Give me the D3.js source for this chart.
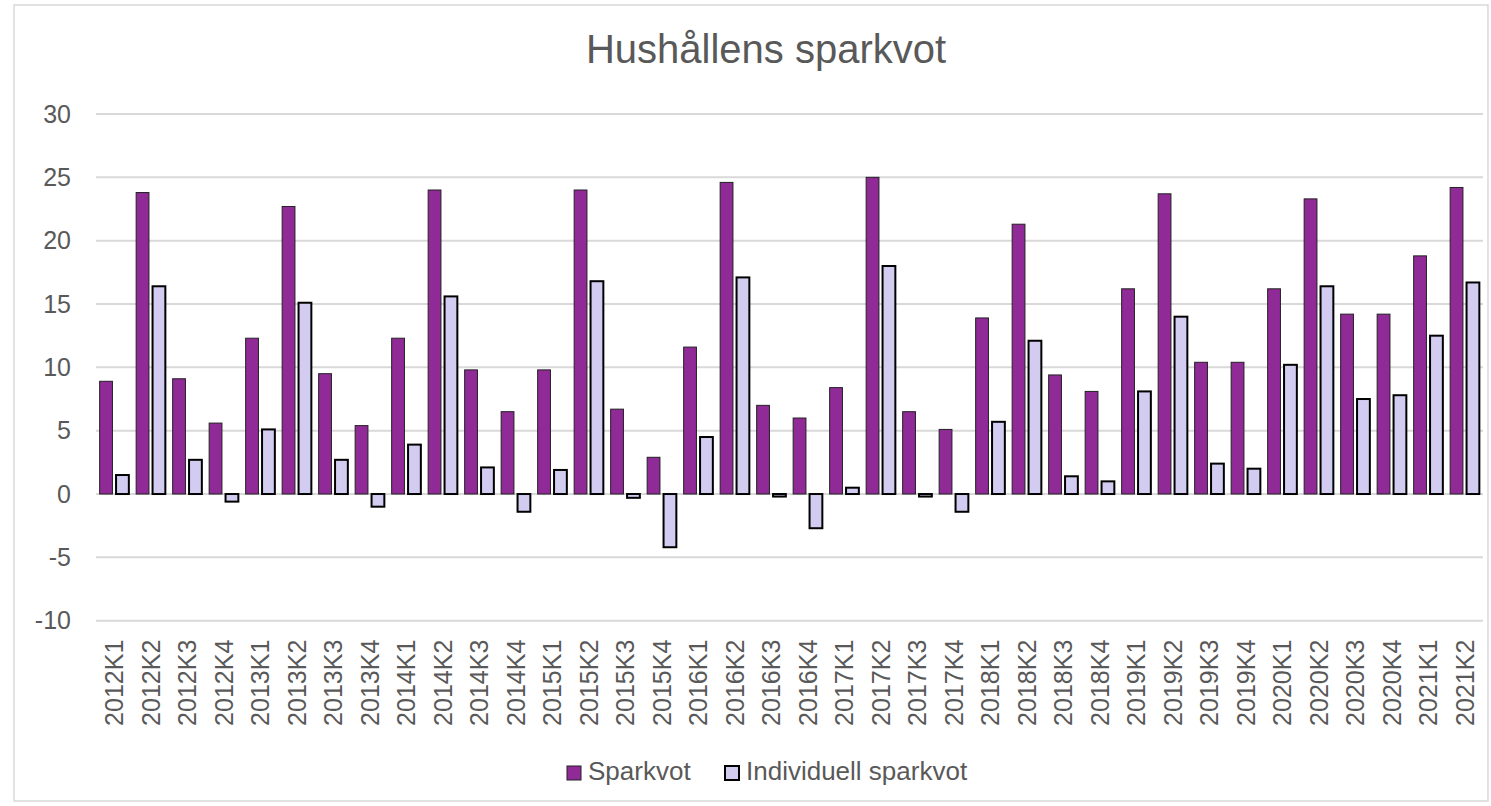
<!DOCTYPE html>
<meta charset="utf-8">
<script src="https://d3js.org/d3.v7.min.js"></script>
<style>
  body { margin: 0; background: #fff; }
  text { font-family: "Liberation Sans", Arial, sans-serif; fill: #595959; }
</style>
<div id="my_dataviz"></div>
<script>

// quarters
var categories = ["2012K1","2012K2","2012K3","2012K4","2013K1","2013K2","2013K3","2013K4",
  "2014K1","2014K2","2014K3","2014K4","2015K1","2015K2","2015K3","2015K4",
  "2016K1","2016K2","2016K3","2016K4","2017K1","2017K2","2017K3","2017K4",
  "2018K1","2018K2","2018K3","2018K4","2019K1","2019K2","2019K3","2019K4",
  "2020K1","2020K2","2020K3","2020K4","2021K1","2021K2"];

// Sparkvot
var sparkvot = [8.9, 23.8, 9.1, 5.6, 12.3, 22.7, 9.5, 5.4,
  12.3, 24.0, 9.8, 6.5, 9.8, 24.0, 6.7, 2.9,
  11.6, 24.6, 7.0, 6.0, 8.4, 25.0, 6.5, 5.1,
  13.9, 21.3, 9.4, 8.1, 16.2, 23.7, 10.4, 10.4,
  16.2, 23.3, 14.2, 14.2, 18.8, 24.2];

// Individuell sparkvot
var individuell = [1.5, 16.4, 2.7, -0.6, 5.1, 15.1, 2.7, -1.0,
  3.9, 15.6, 2.1, -1.4, 1.9, 16.8, -0.3, -4.2,
  4.5, 17.1, -0.2, -2.7, 0.5, 18.0, -0.2, -1.4,
  5.7, 12.1, 1.4, 1.0, 8.1, 14.0, 2.4, 2.0,
  10.2, 16.4, 7.5, 7.8, 12.5, 16.7];

var yTicks = [-10, -5, 0, 5, 10, 15, 20, 25, 30];
var seriesNames = ["Sparkvot", "Individuell sparkvot"];

var W = 1491, H = 806;
var plot = {left: 96, right: 1483, top: 114, bottom: 620.7};

var svg = d3.select("#my_dataviz")
  .append("svg")
    .attr("width", W)
    .attr("height", H);

// chart border
svg.append("rect")
  .attr("x", 14).attr("y", 5)
  .attr("width", 1474).attr("height", 796)
  .attr("fill", "#fff")
  .attr("stroke", "#d9d9d9")
  .attr("stroke-width", 1.5);

// title
svg.append("text")
  .attr("x", 766).attr("y", 63)
  .attr("text-anchor", "middle")
  .style("font-size", "40px")
  .text("Hushållens sparkvot");

var y = d3.scaleLinear()
  .domain([-10, 30])
  .range([plot.bottom, plot.top]);

var x0 = d3.scaleBand()
  .domain(categories)
  .range([plot.left, plot.right])
  .paddingInner(0.2)
  .paddingOuter(0.1);

var x1 = d3.scaleBand()
  .domain(["s", "i"])
  .range([0, x0.bandwidth()])
  .paddingInner(0.22);

// gridlines
svg.append("g")
  .selectAll("line")
  .data(yTicks)
  .enter().append("line")
    .attr("x1", plot.left).attr("x2", plot.right)
    .attr("y1", function(d) { return y(d); })
    .attr("y2", function(d) { return y(d); })
    .attr("stroke", "#d9d9d9")
    .attr("stroke-width", 2);

// Y axis (plain hyphen for negatives, like the original)
var yAxis = svg.append("g")
  .attr("transform", "translate(" + plot.left + ",0)")
  .call(d3.axisLeft(y).tickValues(yTicks).tickSize(0).tickPadding(25)
    .tickFormat(function(d) { return String(d); }));
yAxis.select(".domain").remove();
yAxis.selectAll("text")
  .style("font-size", "25px")
  .attr("fill", "#595959");

// bars
var groups = svg.append("g")
  .selectAll("g")
  .data(categories)
  .enter().append("g")
    .attr("transform", function(d) { return "translate(" + x0(d) + ",0)"; });

groups.append("rect")
  .attr("x", x1("s"))
  .attr("width", x1.bandwidth())
  .attr("y", function(d, i) { return y(Math.max(0, sparkvot[i])); })
  .attr("height", function(d, i) { return Math.abs(y(sparkvot[i]) - y(0)); })
  .attr("fill", "#902a97")
  .attr("stroke", "#222")
  .attr("stroke-width", 1);

groups.append("rect")
  .attr("x", x1("i"))
  .attr("width", x1.bandwidth())
  .attr("y", function(d, i) { return y(Math.max(0, individuell[i])); })
  .attr("height", function(d, i) { return Math.abs(y(individuell[i]) - y(0)); })
  .attr("fill", "#d2ccf0")
  .attr("stroke", "#000")
  .attr("stroke-width", 2);

// X axis labels, rotated
var xAxis = svg.append("g")
  .attr("transform", "translate(0," + plot.bottom + ")")
  .call(d3.axisBottom(x0).tickSize(0));
xAxis.select(".domain").remove();
xAxis.selectAll("text")
  .attr("transform", "rotate(-90)")
  .attr("text-anchor", "end")
  .attr("x", -19)
  .attr("y", 0)
  .attr("dy", "0.35em")
  .style("font-size", "25px")
  .attr("fill", "#595959");

// legend
var legend = svg.append("g");
var legendItems = [
  {name: seriesNames[0], x: 567, fill: "#902a97", stroke: "#222", sw: 1},
  {name: seriesNames[1], x: 725, fill: "#d2ccf0", stroke: "#000", sw: 2}
];
legendItems.forEach(function(it) {
  legend.append("rect")
    .attr("x", it.x).attr("y", 766)
    .attr("width", 14).attr("height", 14)
    .attr("fill", it.fill)
    .attr("stroke", it.stroke)
    .attr("stroke-width", it.sw);
  legend.append("text")
    .attr("x", it.x + 21).attr("y", 780)
    .style("font-size", "26px")
    .text(it.name);
});

</script>
